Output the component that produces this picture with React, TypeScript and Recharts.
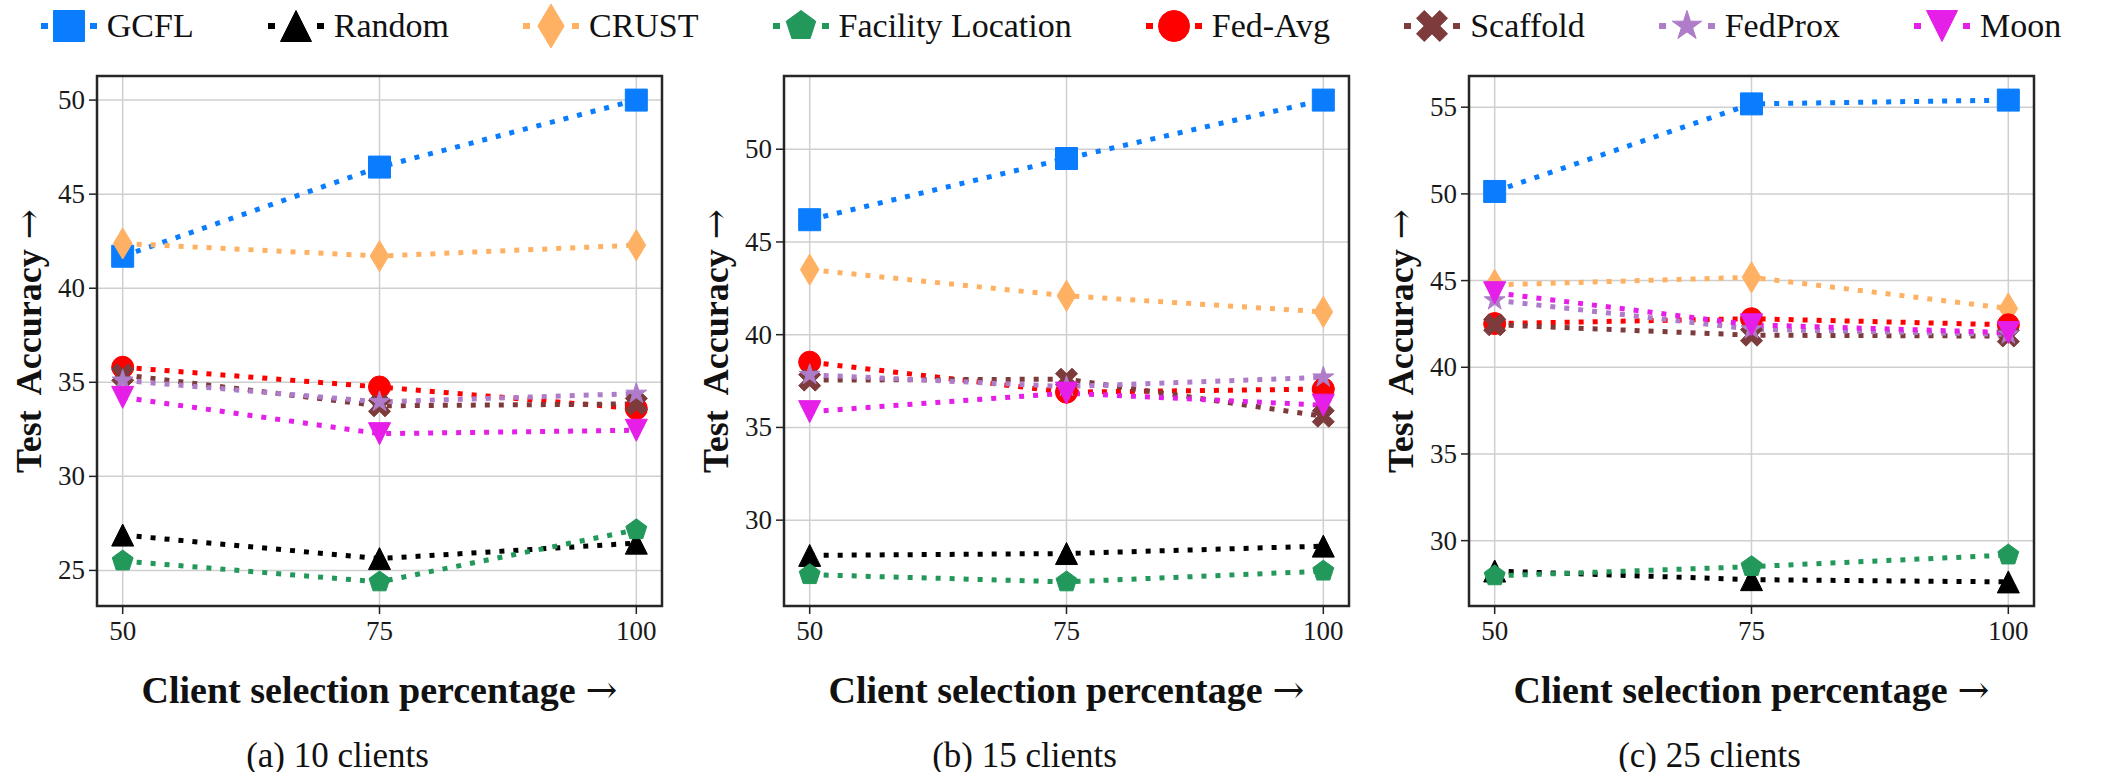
import React from 'react';
import { LineChart, Line, XAxis, YAxis, CartesianGrid, ReferenceArea } from 'recharts';

const percentages = [50, 75, 100];
const xTicks = [50, 75, 100];

const methods = ['GCFL', 'Random', 'CRUST', 'Facility Location', 'Fed-Avg', 'Scaffold', 'FedProx', 'Moon'];

// test accuracy per method (same order as methods) at 50 / 75 / 100 % selection
const clients10 = [
  [41.7, 46.44, 50.0],
  [26.88, 25.63, 26.45],
  [42.38, 41.71, 42.29],
  [25.5, 24.39, 27.16],
  [35.8, 34.75, 33.6],
  [35.4, 33.75, 33.85],
  [35.1, 33.96, 34.4],
  [34.2, 32.27, 32.45],
];
const clients15 = [
  [46.2, 49.5, 52.65],
  [28.1, 28.2, 28.6],
  [43.51, 42.1, 41.23],
  [27.06, 26.67, 27.25],
  [38.52, 36.9, 37.07],
  [37.55, 37.6, 35.6],
  [37.84, 37.2, 37.7],
  [35.85, 36.85, 36.2],
];
const clients25 = [
  [50.14, 55.19, 55.41],
  [28.25, 27.75, 27.62],
  [44.75, 45.19, 43.39],
  [27.97, 28.5, 29.17],
  [42.52, 42.8, 42.45],
  [42.45, 41.85, 41.8],
  [43.87, 42.2, 41.9],
  [44.3, 42.45, 42.0],
];

const yTicks10 = [25, 30, 35, 40, 45, 50];
const yTicks15 = [30, 35, 40, 45, 50];
const yTicks25 = [30, 35, 40, 45, 50, 55];

const captions = ['(a) 10 clients', '(b) 15 clients', '(c) 25 clients'];

// styling
const colors = ['#0a7dff', '#000000', '#ffb163', '#22985a', '#ff0000', '#7d3b3b', '#ae7cc8', '#e51ee8'];
const shapes = ['s', '^', 'd', 'p', 'o', 'X', '*', 'v'];

const SERIF = 'Liberation Serif';
const PLOT_TOP = 76;
const PLOT_BOTTOM = 606;
const PLOT_W = 565;
const AXIS_W = 100;
const frameLefts = [97, 784, 1469];

const poly = (pts: number[][]) =>
  'M' + pts.map((p) => `${p[0].toFixed(2)},${p[1].toFixed(2)}`).join('L') + 'Z';

function shapePath(shape: string, m: number): string {
  const r = m / 2;
  switch (shape) {
    case 's':
      return poly([[-r, -r], [r, -r], [r, r], [-r, r]]);
    case '^':
      return poly([[0, -r], [r, r], [-r, r]]);
    case 'v':
      return poly([[0, r], [r, -r], [-r, -r]]);
    case 'd': {
      const h = r * Math.SQRT2;
      return poly([[0, -h], [0.6 * h, 0], [0, h], [-0.6 * h, 0]]);
    }
    case 'p':
      return poly([0, 1, 2, 3, 4].map((i) => {
        const a = -Math.PI / 2 + (i * 2 * Math.PI) / 5;
        return [r * Math.cos(a), r * Math.sin(a)];
      }));
    case '*':
      return poly([...Array(10).keys()].map((i) => {
        const a = -Math.PI / 2 + (i * Math.PI) / 5;
        const rr = i % 2 === 0 ? r : r * 0.381966;
        return [rr * Math.cos(a), rr * Math.sin(a)];
      }));
    case 'X': {
      const k = r / 2;
      const v = [[-1, -2], [0, -1], [1, -2], [2, -1], [1, 0], [2, 1], [1, 2], [0, 1], [-1, 2], [-2, 1], [-1, 0], [-2, -1]];
      return poly(v.map(([x, y]) => [x * k, y * k]));
    }
    default:
      return '';
  }
}

const Marker = ({ shape, color, size, x, y }: any) => {
  if (shape === 'o') {
    return <circle cx={x} cy={y} r={size / 2} fill={color} stroke={color} strokeWidth={1} />;
  }
  return (
    <path
      d={shapePath(shape, size)}
      transform={`translate(${x},${y})`}
      fill={color}
      stroke={color}
      strokeWidth={1}
      strokeLinejoin="miter"
    />
  );
};

const makeDot = (i: number) => (props: any) => {
  const { cx, cy, index } = props;
  if (cx == null || cy == null) return <g key={`d-${i}-${index}`} />;
  return (
    <g key={`d-${i}-${index}`}>
      <Marker shape={shapes[i]} color={colors[i]} size={22} x={cx} y={cy} />
    </g>
  );
};

const buildRows = (values: number[][]) =>
  percentages.map((pct, j) => {
    const row: Record<string, number> = { pct };
    methods.forEach((m, i) => {
      row[m] = values[i][j];
    });
    return row;
  });

// matplotlib-style autoscale: 5% margin around the data
const yDomain = (values: number[][]): [number, number] => {
  const all = values.flat();
  const lo = Math.min(...all);
  const hi = Math.max(...all);
  const pad = (hi - lo) * 0.05;
  return [lo - pad, hi + pad];
};

// serif tick text drawn by hand so the font is not overridden
const XTick = ({ x, y, payload }: any) => (
  <text x={x} y={y + 20} textAnchor="middle" fontFamily={SERIF} fontSize={27} fill="#1a1a1a">
    {payload.value}
  </text>
);
const YTick = ({ x, y, payload }: any) => (
  <text x={x} y={y + 9} textAnchor="end" fontFamily={SERIF} fontSize={27} fill="#1a1a1a">
    {payload.value}
  </text>
);

const Panel = ({ values, yTicks, left }: { values: number[][]; yTicks: number[]; left: number }) => {
  const data = buildRows(values);
  const [lo, hi] = yDomain(values);
  return (
    <div style={{ position: 'absolute', left: left - AXIS_W, top: 0 }}>
      <LineChart
        width={AXIS_W + PLOT_W + 12}
        height={772}
        data={data}
        margin={{ top: PLOT_TOP, right: 12, bottom: 0, left: 0 }}
      >
        <CartesianGrid stroke="#cfcfcf" strokeWidth={1.5} />
        <XAxis
          dataKey="pct"
          type="number"
          domain={[47.5, 102.5]}
          ticks={xTicks}
          allowDataOverflow
          height={772 - PLOT_BOTTOM}
          axisLine={false}
          tickSize={8}
          tickMargin={6}
          tickLine={{ stroke: '#222', strokeWidth: 1.5 }}
          tick={<XTick />}
        />
        <YAxis
          type="number"
          domain={[lo, hi]}
          ticks={yTicks}
          allowDataOverflow
          width={AXIS_W}
          axisLine={false}
          tickSize={8}
          tickMargin={4}
          tickLine={{ stroke: '#222', strokeWidth: 1.5 }}
          tick={<YTick />}
        />
        {methods.map((m, i) => (
          <Line
            key={m}
            type="linear"
            dataKey={m}
            stroke={colors[i]}
            strokeWidth={5}
            strokeDasharray="5 9"
            dot={makeDot(i)}
            activeDot={false}
            isAnimationActive={false}
          />
        ))}
        <ReferenceArea
          x1={47.5}
          x2={102.5}
          y1={lo}
          y2={hi}
          fill="none"
          fillOpacity={0}
          stroke="#262626"
          strokeWidth={2.5}
          ifOverflow="visible"
        />
      </LineChart>
    </div>
  );
};

// legend handle: a short dash each side of an enlarged marker
const LegendItem = ({ i, last }: { i: number; last: boolean }) => (
  <div style={{ display: 'flex', alignItems: 'center', flexShrink: 0, whiteSpace: 'nowrap', marginRight: last ? 0 : 74 }}>
    <svg width={56} height={52} style={{ marginRight: 10, overflow: 'visible' }}>
      <line x1={0} y1={26} x2={56} y2={26} stroke={colors[i]} strokeWidth={6} strokeDasharray="7 42 7" />
      <Marker shape={shapes[i]} color={colors[i]} size={31} x={28} y={26} />
    </svg>
    <span style={{ fontFamily: SERIF }}>{methods[i]}</span>
  </div>
);

const Arrow = () => (
  <span style={{ fontFamily: 'DejaVu Serif', fontWeight: 'normal', marginLeft: 10 }}>→</span>
);

const centered = (x: number, y: number): React.CSSProperties => ({
  position: 'absolute',
  left: x,
  top: y,
  transform: 'translate(-50%, -50%)',
  whiteSpace: 'nowrap',
  lineHeight: 1,
  fontFamily: SERIF,
});

export default function App() {
  const panels = [
    { values: clients10, yTicks: yTicks10 },
    { values: clients15, yTicks: yTicks15 },
    { values: clients25, yTicks: yTicks25 },
  ];
  const midY = (PLOT_TOP + PLOT_BOTTOM) / 2;
  return (
    <div style={{ position: 'absolute', left: 0, top: 0, width: 2102, height: 772, background: '#fff', fontFamily: SERIF, color: '#111' }}>
      {panels.map((p, k) => (
        <Panel key={k} values={p.values} yTicks={p.yTicks} left={frameLefts[k]} />
      ))}
      {frameLefts.map((fl, k) => (
        <React.Fragment key={`t-${k}`}>
          <div style={{ ...centered(fl - 68, midY), transform: 'translate(-50%, -50%) rotate(-90deg)', fontWeight: 'bold', fontSize: 36, wordSpacing: 8 }}>
            Test Accuracy<Arrow />
          </div>
          <div style={{ ...centered(fl + PLOT_W / 2, 690), fontWeight: 'bold', fontSize: 38 }}>
            Client selection percentage<Arrow />
          </div>
          <div style={{ ...centered(fl + PLOT_W / 2 - 42, 755), fontSize: 35 }}>{captions[k]}</div>
        </React.Fragment>
      ))}
      <div
        style={{
          position: 'absolute',
          left: 0,
          top: 0,
          width: 2102,
          height: 52,
          display: 'flex',
          alignItems: 'center',
          justifyContent: 'center',
          fontSize: 34,
          fontFamily: SERIF,
        }}
      >
        {methods.map((m, i) => (
          <LegendItem key={m} i={i} last={i === methods.length - 1} />
        ))}
      </div>
    </div>
  );
}
